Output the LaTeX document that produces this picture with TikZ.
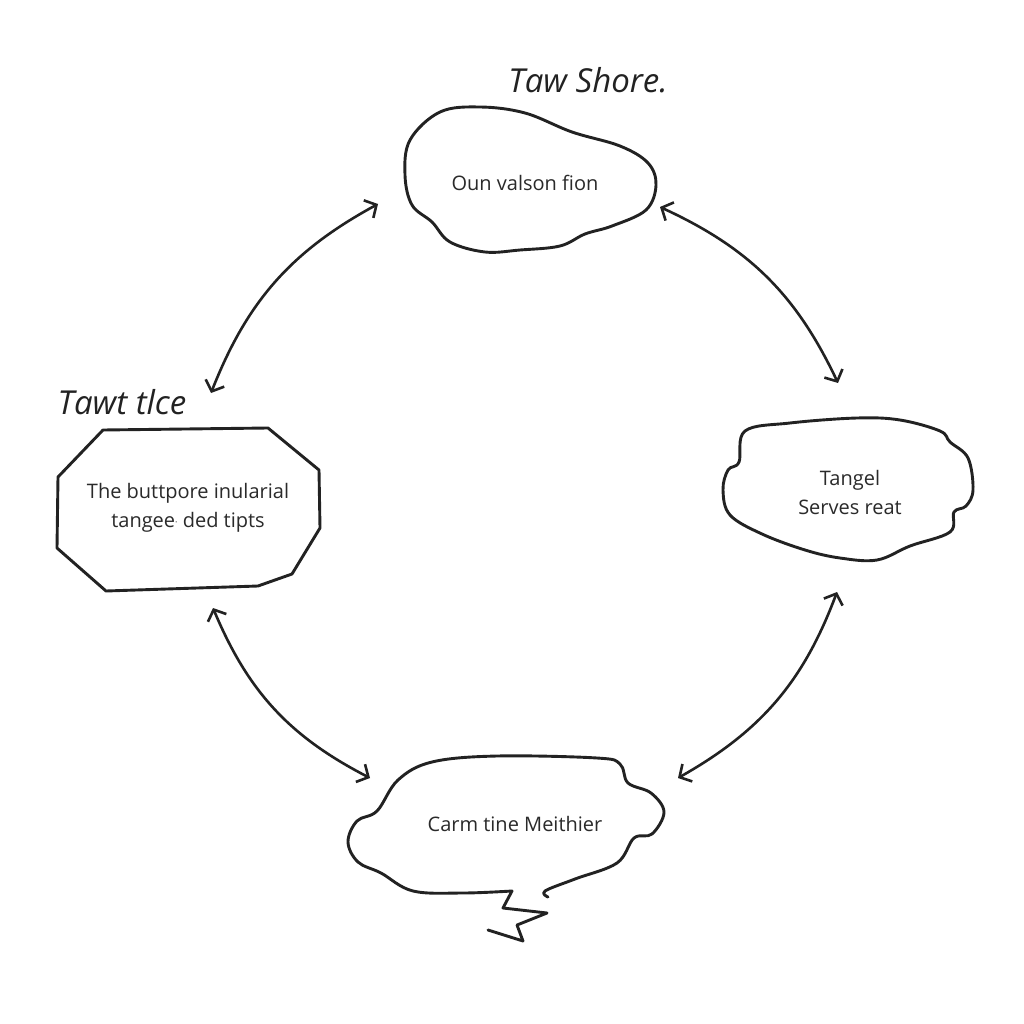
\documentclass[tikz,border=0pt]{standalone}
\usepackage{fontspec}
\setmainfont{Open Sans}
\usepackage{xcolor}
\definecolor{cInk}{HTML}{222222}
\definecolor{cText}{HTML}{2A2A2A}
\usepackage{tikz}
\usetikzlibrary{arrows.meta,positioning}
\tikzset{
  node-text/.style={align=center,text=cText,font=\fontsize{20}{29}\selectfont},
  node-hand/.style={text=cInk,font=\fontsize{33}{36}\selectfont\itshape},
  blob-line/.style={draw=cInk,line width=2.9pt,line join=round,line cap=round},
  arrow-both/.style={{Straight Barb[length=9pt,width=20pt]}-{Straight Barb[length=9pt,width=20pt]},
    draw=cInk,line width=2.6pt},
}

\begin{document}
\begin{tikzpicture}[x=1pt,y=-1pt]
  \useasboundingbox[fill=white] (0,0) rectangle (1024,1024);

  % texts of the four steps
  \node[node-text] (top)    at (525,183) {Oun valson fion};
  \node[node-text] (right)  at (850,492) {Tangel\\Serves reat};
  \node[node-text] (left)   at (188,508) {The buttpore inularial\\tangee{\fontsize{9}{9}\selectfont\raisebox{2pt}{·}} ded tipts};
  \node[node-text] (bottom) at (515,824) {Carm tine Meithier};

  % hand written labels
  \node[node-hand] (lbl-top)  at (588,80)  {Taw Shore.};
  \node[node-hand] (lbl-left) at (122,402) {Tawt tlce};

  % outlines
  \draw[blob-line] plot[smooth cycle,tension=0.6] coordinates {
    (410,140) (440,112) (480,107) (525,113) (572,132) (620,146) (648,163)
    (656,185) (646,210) (612,226) (585,234) (560,246) (520,250) (485,252)
    (450,242) (432,222) (412,205) (405,175)};
  \draw[blob-line] plot[smooth cycle,tension=0.6] coordinates {
    (745,431) (790,423) (857,418) (900,420) (940,431) (950,442) (968,458)
    (973,490) (966,506) (954,512) (950,532) (910,546) (877,560) (840,558)
    (805,550) (762,534) (730,515) (723,490) (728,470) (739,462)};
  \draw[blob-line] (58,477) -- (103,430) -- (268,428) -- (319,470) -- (320,528)
    -- (292,574) -- (258,586) -- (106,591) -- (57,548) -- cycle;
  \draw[blob-line] plot[smooth,tension=0.6] coordinates {
    (548,897) (545,891) (575,879) (617,863) (634,838) (652,834) (664,812)
    (651,793) (628,783) (620,764) (597,758) (497,756) (432,762) (398,780)
    (377,811) (357,821) (348,842) (358,862) (381,873) (413,891) (463,893) (512,891)}
    -- (503,908) -- (547,913) -- (517,925) -- (523,941) -- (488,930);

  % arrow ends
  \coordinate (a-tl) at (378,204);
  \coordinate (a-lt) at (211,393);
  \coordinate (a-tr) at (660,207);
  \coordinate (a-rt) at (838,383);
  \coordinate (a-lb) at (213,608);
  \coordinate (a-bl) at (370,778);
  \coordinate (a-rb) at (837,592);
  \coordinate (a-br) at (678,778);

  \draw[arrow-both] (a-tl) to[bend right=20] (a-lt);
  \draw[arrow-both] (a-tr) to[bend left=20]  (a-rt);
  \draw[arrow-both] (a-lb) to[bend right=20] (a-bl);
  \draw[arrow-both] (a-rb) to[bend left=20]  (a-br);
\end{tikzpicture}
\end{document}
